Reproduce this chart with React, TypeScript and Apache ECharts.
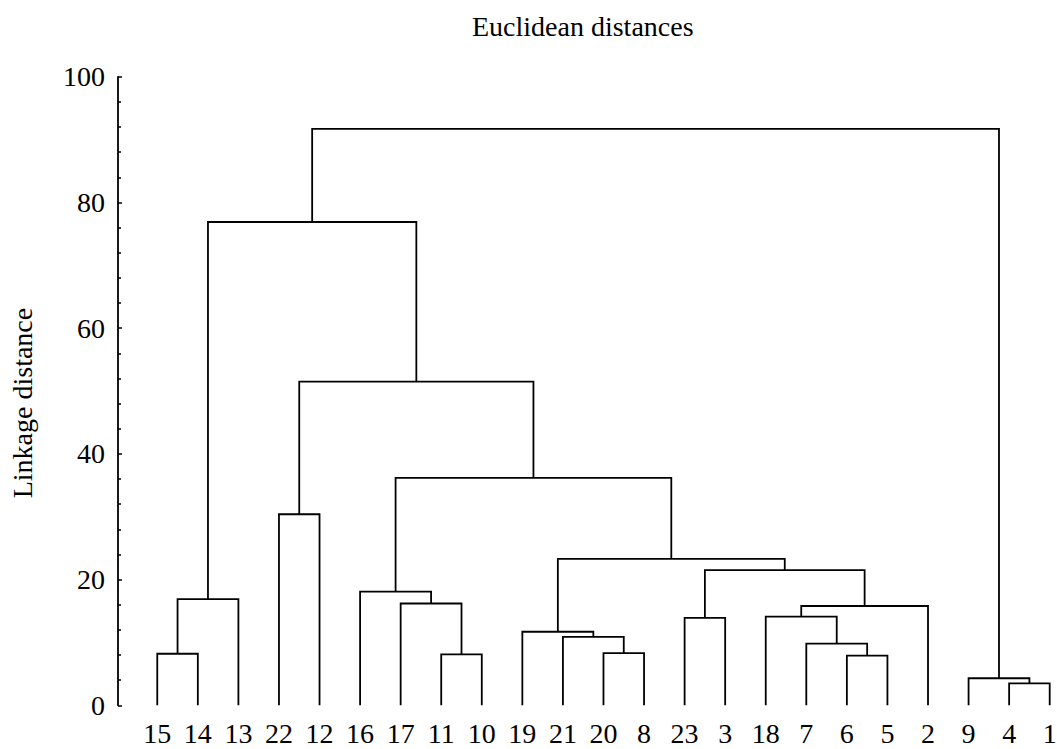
import React, { useEffect, useRef } from "react";
import * as echarts from "echarts";

// Leaf order along the x axis
const leafLabels = ["15", "14", "13", "22", "12", "16", "17", "11", "10", "19", "21", "20", "8", "23", "3", "18", "7", "6", "5", "2", "9", "4", "1"];

// Merges (in order): cluster name, left child, right child, linkage distance
const mergeNames = ["A", "B", "C", "D", "E", "F", "G", "H", "I", "J", "K", "L", "M", "N", "O", "P", "Q", "R", "S", "T", "U", "V"];
const mergeLeft = ["15", "A", "22", "11", "17", "16", "20", "21", "19", "23", "6", "7", "18", "M", "J", "I", "F", "C", "B", "4", "9", "S"];
const mergeRight = ["14", "13", "12", "10", "D", "E", "8", "G", "H", "3", "5", "K", "L", "2", "N", "O", "P", "Q", "R", "1", "T", "U"];
const mergeHeights = [8.2, 16.9, 30.4, 8.1, 16.2, 18.1, 8.3, 10.9, 11.7, 13.9, 7.9, 9.8, 14.1, 15.8, 21.5, 23.3, 36.2, 51.5, 76.9, 3.5, 4.3, 91.7];

// Y axis ticks
const yMin = 0;
const yMax = 100;
const yInterval = 20;

const FONT = "'Liberation Serif', 'Times New Roman', serif";

function buildLinks() {
  const pos: Record<string, { x: number; h: number }> = {};
  leafLabels.forEach((l, i) => {
    pos[l] = { x: i, h: 0 };
  });
  const links: number[][] = [];
  mergeNames.forEach((name, i) => {
    const a = pos[mergeLeft[i]];
    const b = pos[mergeRight[i]];
    const h = mergeHeights[i];
    links.push([a.x, a.h, b.x, b.h, h]);
    pos[name] = { x: (a.x + b.x) / 2, h };
  });
  return links;
}

export default function App() {
  const ref = useRef<HTMLDivElement>(null);
  useEffect(() => {
    if (!ref.current) return;
    const chart = echarts.init(ref.current, null, { renderer: "svg" });
    const links = buildLinks();
    chart.setOption({
      animation: false,
      backgroundColor: "#fff",
      title: {
        text: "Euclidean distances",
        left: 467,
        top: 7,
        textStyle: { fontFamily: FONT, fontSize: 28, fontWeight: "normal", color: "#000" },
      },
      grid: { left: 117, right: 0, top: 76.8, bottom: 749 - 705.3 },
      xAxis: {
        type: "value",
        min: -0.968,
        max: 22.18,
        show: false,
      },
      yAxis: {
        type: "value",
        min: yMin,
        max: yMax,
        interval: yInterval,
        name: "Linkage distance",
        nameLocation: "middle",
        nameGap: 82,
        nameTextStyle: { fontFamily: FONT, fontSize: 28, color: "#000", padding: [0, 24, 0, 0] },
        axisLine: { show: true, onZero: false, lineStyle: { color: "#000", width: 1.8 } },
        axisTick: { show: true, inside: true, length: 4, lineStyle: { color: "#000", width: 1.5 } },
        minorTick: { show: true, splitNumber: 5, length: 3, lineStyle: { color: "#000", width: 1.5 } },
        splitLine: { show: false },
        minorSplitLine: { show: false },
        axisLabel: { fontFamily: FONT, fontSize: 28, color: "#000", margin: 13 },
      },
      series: [
        {
          type: "custom",
          data: links,
          clip: false,
          encode: { x: [0, 2], y: [1, 3, 4] },
          renderItem: (params: any, api: any) => {
            const p1 = api.coord([api.value(0), api.value(1)]);
            const p2 = api.coord([api.value(0), api.value(4)]);
            const p3 = api.coord([api.value(2), api.value(4)]);
            const p4 = api.coord([api.value(2), api.value(3)]);
            return {
              type: "polyline",
              shape: { points: [p1, p2, p3, p4] },
              style: { stroke: "#000", fill: null, lineWidth: 1.8 },
            };
          },
        },
        {
          type: "custom",
          data: leafLabels.map((l, i) => [i, 0]),
          clip: false,
          encode: { x: 0, y: 1 },
          renderItem: (params: any, api: any) => {
            const p = api.coord([api.value(0), api.value(1)]);
            return {
              type: "text",
              x: p[0],
              y: p[1] + 14,
              style: {
                text: leafLabels[params.dataIndex],
                fontFamily: FONT,
                fontSize: 28,
                fill: "#000",
                align: "center",
                verticalAlign: "top",
              },
            };
          },
        },
      ],
    });
    return () => chart.dispose();
  }, []);
  return <div ref={ref} style={{ position: "absolute", left: 0, top: 0, width: 1057, height: 749 }} />;
}
